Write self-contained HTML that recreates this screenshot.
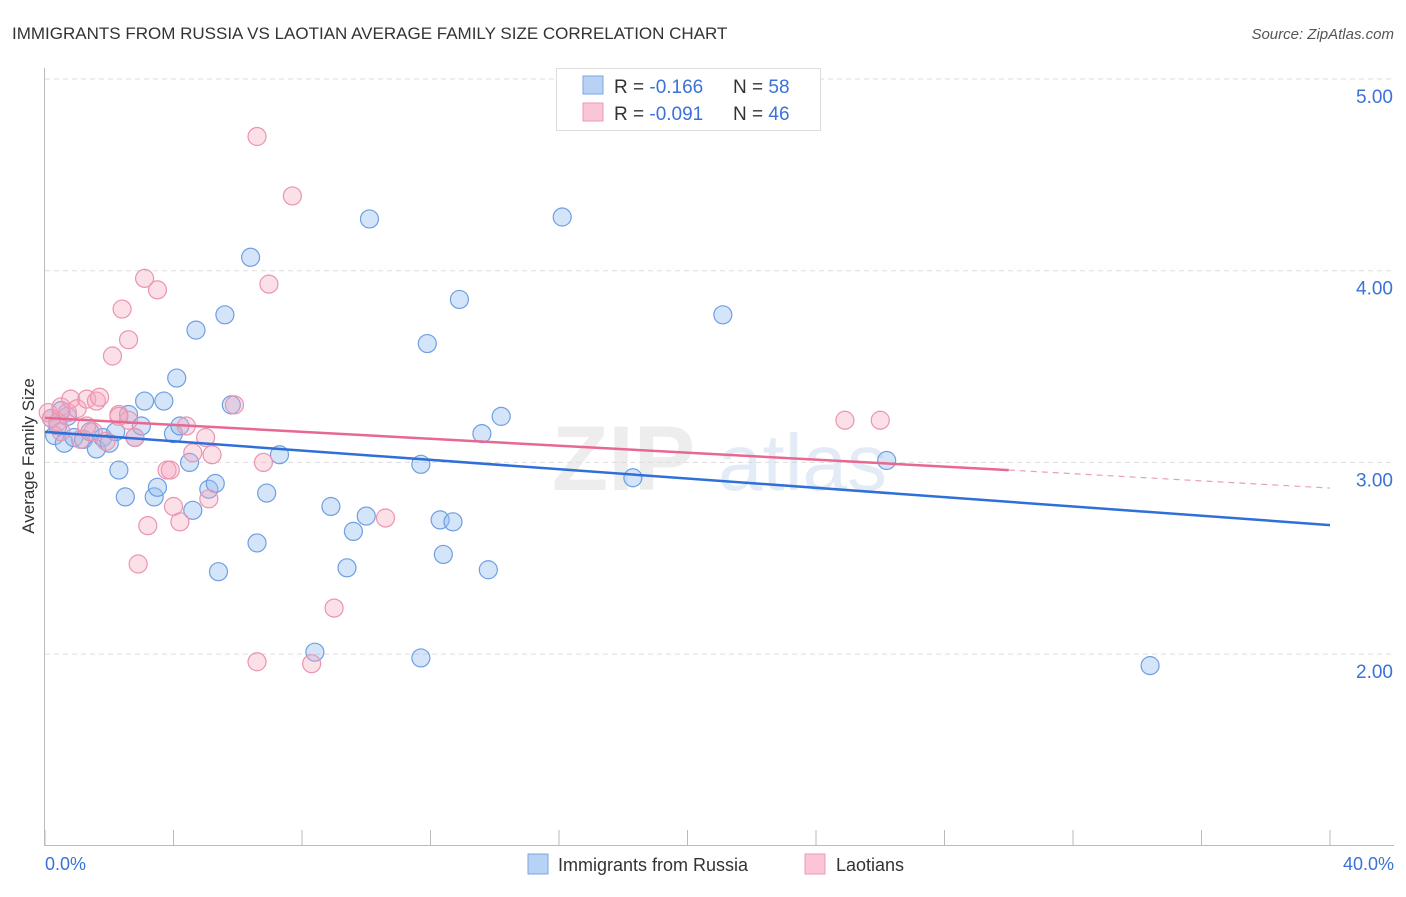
<!DOCTYPE html>
<html><head><meta charset="utf-8"><style>
body{margin:0;background:#fff;font-family:"Liberation Sans",sans-serif;}
svg text{font-family:"Liberation Sans",sans-serif;}
</style></head><body>
<svg id="chart" width="1406" height="892" xmlns="http://www.w3.org/2000/svg">
<text x="12" y="39" font-size="17" fill="#333">IMMIGRANTS FROM RUSSIA VS LAOTIAN AVERAGE FAMILY SIZE CORRELATION CHART</text>
<text x="1394" y="39" font-size="15" fill="#555" text-anchor="end" font-style="italic">Source: ZipAtlas.com</text>
<g id="grid"></g>
<g opacity="0.5">
<text x="552" y="490" font-size="92" fill="#ddd" font-family="Liberation Serif" font-weight="bold">ZIP</text>
<text x="718" y="490" font-size="80" fill="#c8d8ee">atlas</text>
</g>
<line x1="44.5" y1="68" x2="44.5" y2="845" stroke="#bbb"/>
<line x1="44" y1="845.5" x2="1394" y2="845.5" stroke="#bbb"/>
<text transform="translate(34,456) rotate(-90)" font-size="17" fill="#333" text-anchor="middle">Average Family Size</text>
<g id="ticks"></g>
<g id="points"></g>
<g id="lines"></g>
<g>
<rect x="556.5" y="68.5" width="264" height="62" fill="#fff" stroke="#ddd"/>
<rect x="583" y="76" width="20" height="18" fill="#b8d2f5" stroke="#7aa6e0"/>
<rect x="583" y="103" width="20" height="18" fill="#fac6d6" stroke="#ec9ab4"/>
<text x="614" y="93" font-size="19" fill="#333">R = <tspan fill="#3a72d8"> -0.166</tspan>   <tspan x="733">N = </tspan><tspan fill="#3a72d8">58</tspan></text>
<text x="614" y="120" font-size="19" fill="#333">R = <tspan fill="#3a72d8">-0.091</tspan>   <tspan x="733">N = </tspan><tspan fill="#3a72d8">46</tspan></text>
</g>
<g>
<rect x="528" y="854" width="20" height="20" fill="#b8d2f5" stroke="#7aa6e0"/>
<text x="558" y="871" font-size="18" fill="#333">Immigrants from Russia</text>
<rect x="805" y="854" width="20" height="20" fill="#fac6d6" stroke="#ec9ab4"/>
<text x="836" y="871" font-size="18" fill="#333">Laotians</text>
</g>
</svg>
<script>
const blueX=[0.3,0.6,0.4,0.7,0.9,1.2,1.4,1.6,1.8,2.0,2.2,2.3,2.5,2.6,2.8,3.0,3.1,3.4,3.5,3.7,4.0,4.1,4.2,4.5,4.6,4.7,5.1,5.3,5.4,5.6,5.8,6.4,6.6,6.9,7.3,8.4,8.9,9.6,10.0,9.4,10.1,11.7,11.7,11.9,12.3,12.4,12.7,12.9,13.6,13.8,14.2,16.1,18.3,21.1,26.2,34.4,0.2,0.5];
const blueY=[3.14,3.10,3.19,3.24,3.13,3.12,3.16,3.07,3.13,3.10,3.16,2.96,2.82,3.25,3.13,3.19,3.32,2.82,2.87,3.32,3.15,3.44,3.19,3.00,2.75,3.69,2.86,2.89,2.43,3.77,3.30,4.07,2.58,2.84,3.04,2.01,2.77,2.64,2.72,2.45,4.27,2.99,1.98,3.62,2.70,2.52,2.69,3.85,3.15,2.44,3.24,4.28,2.92,3.77,3.01,1.94,3.23,3.27];
const pinkX=[0.1,0.2,0.4,0.5,0.7,0.8,1.0,1.1,1.3,1.5,1.6,1.9,2.1,2.3,2.4,2.6,2.6,2.8,3.1,3.2,3.5,2.9,3.8,3.9,4.0,4.2,4.4,4.6,5.0,5.2,5.1,5.9,6.6,6.6,6.8,6.97,7.7,8.3,9.0,10.6,24.9,26.0,0.5,1.7,1.3,2.3];
const pinkY=[3.26,3.23,3.21,3.29,3.26,3.33,3.28,3.12,3.33,3.16,3.32,3.11,3.555,3.25,3.80,3.64,3.22,3.13,3.96,2.67,3.90,2.47,2.96,2.96,2.77,2.69,3.19,3.05,3.13,3.04,2.81,3.30,4.70,1.96,3.00,3.93,4.39,1.95,2.24,2.71,3.22,3.22,3.16,3.34,3.19,3.24];
const trendBlue=[3.159,2.673];
const trendPink=[3.232,2.96,2.866];
const yTicks=[2,3,4,5];
const xTicks=[0,4,8,12,16,20,24,28,32,36,40];
const NS='http://www.w3.org/2000/svg';
const X=v=>45+v*1285/40;
const Y=v=>79+(5-v)*191.7;
function mk(t,a,p){const e=document.createElementNS(NS,t);for(const k in a)e.setAttribute(k,a[k]);document.getElementById(p).appendChild(e);return e;}
yTicks.forEach(v=>{
 const g=mk('line',{x1:45,x2:1394,y1:Y(v),y2:Y(v),stroke:'#ddd','stroke-dasharray':'5,4'},'grid');
 
 
 const t=mk('text',{x:1393,y:Y(v)+24,'font-size':19,fill:'#3a72d8','text-anchor':'end'},'ticks');
 t.textContent=v.toFixed(2);
 
 
});
xTicks.forEach(v=>{
 const l=mk('line',{x1:X(v),x2:X(v),y1:830,y2:845,stroke:'#bbb'},'ticks');
 
 
});
[[0,'0.0%','start',45],[40,'40.0%','end',1394]].forEach(d=>{
 const t=mk('text',{x:d[3],y:870,'font-size':18,fill:'#3a72d8','text-anchor':d[2]},'ticks');
 t.textContent=d[1];
 
 
});
blueX.forEach((x,i)=>{
 const c=mk('circle',{cx:X(x),cy:Y(blueY[i]),r:9,fill:'rgba(150,190,240,0.4)',stroke:'#6e9fe2','stroke-width':1.2},'points');
 
 
});
pinkX.forEach((x,i)=>{
 const c=mk('circle',{cx:X(x),cy:Y(pinkY[i]),r:9,fill:'rgba(245,165,190,0.35)',stroke:'#eb94b0','stroke-width':1.2},'points');
 
 
});
const bl=mk('line',{x1:X(0),y1:Y(trendBlue[0]),x2:X(40),y2:Y(trendBlue[1]),stroke:'#2e6fd8','stroke-width':2.5},'lines');


const pl=mk('line',{x1:X(0),y1:Y(trendPink[0]),x2:X(30),y2:Y(trendPink[1]),stroke:'#e8688f','stroke-width':2.5},'lines');


const pd=mk('line',{x1:X(30),y1:Y(trendPink[1]),x2:X(40),y2:Y(trendPink[2]),stroke:'#e8a0b6','stroke-width':1.2,'stroke-dasharray':'6,5'},'lines');


</script>
</body></html>
